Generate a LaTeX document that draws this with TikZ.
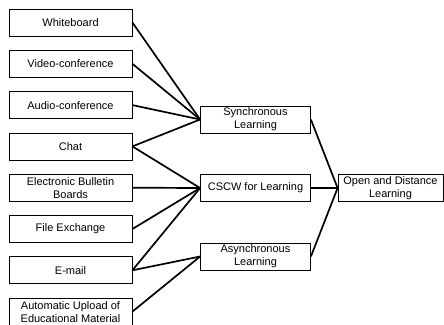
\documentclass[tikz,border=0pt]{standalone}
\usepackage{fontspec}
\setmainfont{Liberation Sans}
\begin{document}
\begin{tikzpicture}[x=1pt,y=-1pt,
  box/.style={draw, line width=0.8pt, inner sep=0pt, align=center,
    font=\fontsize{11}{13}\selectfont},
  leftbox/.style={box, minimum width=123pt, minimum height=27pt},
  midbox/.style={box, minimum width=110pt, minimum height=27pt},
  endbox/.style={box, minimum width=105pt, minimum height=27pt},
  link/.style={line width=1.7pt}]
\useasboundingbox (0,0) rectangle (444,324);
\node[leftbox] (wb) at (70.5,22.5) {Whiteboard};
\node[leftbox] (vc) at (70.5,63.8) {Video-conference};
\node[leftbox] (ac) at (70.5,105.1) {Audio-conference};
\node[leftbox] (ch) at (70.5,146.4) {Chat};
\node[leftbox] (eb) at (70.5,187.7) {Electronic Bulletin\\Boards};
\node[leftbox] (fe) at (70.5,229) {File Exchange};
\node[leftbox] (em) at (70.5,270.3) {E-mail};
\node[leftbox] (au) at (70.5,311.6) {Automatic Upload of\\Educational Material};
\node[midbox] (sl) at (255.5,119.5) {Synchronous\\Learning};
\node[midbox] (cs) at (255.5,188) {CSCW for Learning};
\node[midbox] (al) at (255.5,256.5) {Asynchronous\\Learning};
\node[endbox] (od) at (390.5,188) {Open and Distance\\Learning};
\foreach \s in {wb,vc,ac,ch} \draw[link] (\s.east) -- (sl.west);
\foreach \s in {ch,eb,fe,em} \draw[link] (\s.east) -- (cs.west);
\foreach \s in {em,au} \draw[link] (\s.east) -- (al.west);
\foreach \s in {sl,cs,al} \draw[link] (\s.east) -- (od.west);
\end{tikzpicture}
\end{document}
